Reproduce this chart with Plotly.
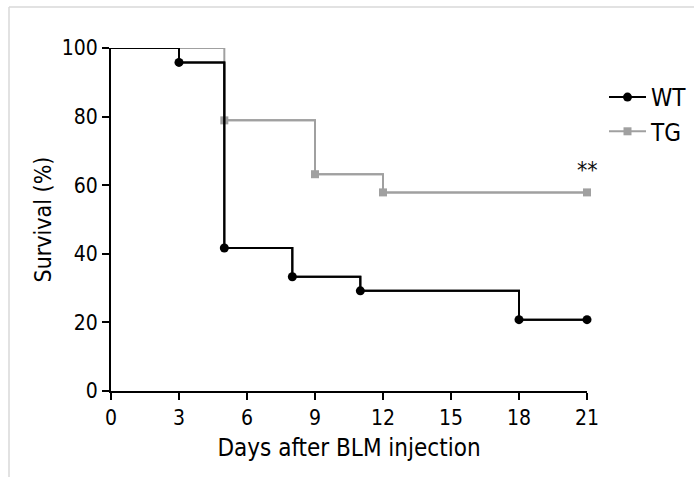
import plotly.graph_objects as go

# Data (Kaplan-Meier survival, %)
wt_days = [0, 3, 5, 8, 11, 18, 21]
wt_surv = [100, 95.8, 41.7, 33.3, 29.2, 20.8, 20.8]
tg_days = [0, 5, 9, 12, 21]
tg_surv = [100, 78.9, 63.2, 57.9, 57.9]
x_ticks = [0, 3, 6, 9, 12, 15, 18, 21]
y_ticks = [0, 20, 40, 60, 80, 100]

W, H = 694, 477
L, R, T, B = 111, 107, 48, 86
FONT = "DejaVu Sans Condensed, DejaVu Sans, sans-serif"
BLACK = "#000000"
GRAY = "#a0a0a0"

fig = go.Figure()

# TG first (drawn underneath)
fig.add_trace(go.Scatter(x=tg_days, y=tg_surv, mode="lines", line=dict(color=GRAY, width=2, shape="hv"),
                         showlegend=False, hoverinfo="skip", cliponaxis=False))
fig.add_trace(go.Scatter(x=tg_days[1:], y=tg_surv[1:], mode="lines+markers", name="TG",
                         line=dict(color=GRAY, width=2, shape="hv"),
                         marker=dict(symbol="square", size=8, color=GRAY),
                         legendrank=2, cliponaxis=False))
fig.add_trace(go.Scatter(x=wt_days, y=wt_surv, mode="lines", line=dict(color=BLACK, width=2, shape="hv"),
                         showlegend=False, hoverinfo="skip", cliponaxis=False))
fig.add_trace(go.Scatter(x=wt_days[1:], y=wt_surv[1:], mode="lines+markers", name="WT",
                         line=dict(color=BLACK, width=2, shape="hv"),
                         marker=dict(symbol="circle", size=9, color=BLACK),
                         legendrank=1, cliponaxis=False))

pw = W - L - R
ph = H - T - B
def px(x):
    return (x - L) / pw
def py(y):
    return (H - B - y) / ph

fig.update_layout(
    width=W, height=H,
    margin=dict(l=L, r=R, t=T, b=B, autoexpand=False),
    paper_bgcolor="white", plot_bgcolor="white",
    font=dict(family=FONT, color=BLACK, size=19),
    legend=dict(x=px(604), y=py(75), xanchor="left", yanchor="top",
                font=dict(size=24, family=FONT), itemwidth=37, tracegroupgap=0,
                bgcolor="rgba(0,0,0,0)"),
    xaxis=dict(range=[0, 21], tickvals=x_ticks, ticks="outside", ticklen=7, tickwidth=2,
               tickcolor=BLACK, showline=True, linecolor=BLACK, linewidth=2,
               showgrid=False, zeroline=False, tickfont=dict(size=21),
               title=dict(text="Days after BLM injection", font=dict(size=24), standoff=10)),
    yaxis=dict(range=[0, 100], tickvals=y_ticks, ticks="outside", ticklen=7, tickwidth=2,
               tickcolor=BLACK, showline=True, linecolor=BLACK, linewidth=2,
               showgrid=False, zeroline=False, tickfont=dict(size=21),
               title=dict(text="Survival (%)", font=dict(size=23), standoff=4)),
    shapes=[
        dict(type="line", xref="paper", yref="paper", x0=px(9), x1=px(694), y0=py(7), y1=py(7),
             line=dict(color="#d8d8d8", width=1.5)),
        dict(type="line", xref="paper", yref="paper", x0=px(9), x1=px(9), y0=py(7), y1=py(477),
             line=dict(color="#d8d8d8", width=1.5)),
    ],
    annotations=[
        dict(x=21, y=tg_surv[-1], xref="x", yref="y", text="**", showarrow=False,
             yshift=22, font=dict(size=23, family=FONT, color="#111111")),
    ],
)

fig.write_html("out.html")
